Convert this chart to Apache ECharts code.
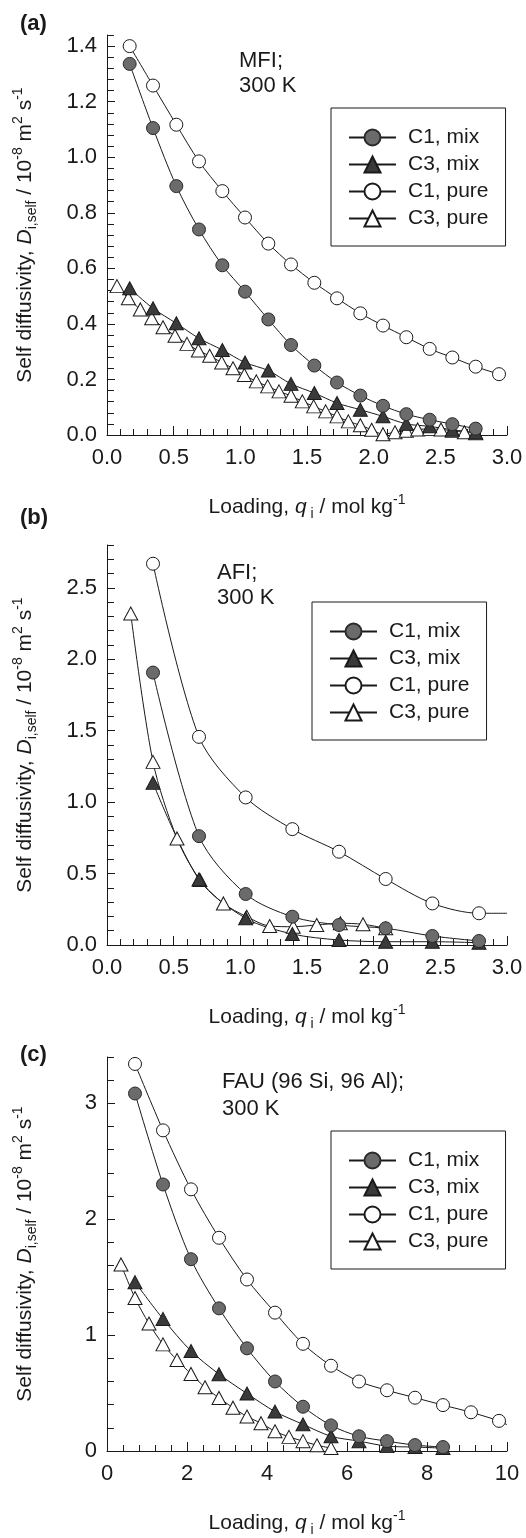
<!DOCTYPE html>
<html><head><meta charset="utf-8">
<script src="https://cdn.jsdelivr.net/npm/echarts@6/dist/echarts.min.js"></script>
<style>html,body{margin:0;padding:0;background:#fff}#c{width:526px;height:1538px}</style>
</head><body><div id="c"></div>
<script>
const FONT = "'Liberation Sans', Arial, Helvetica, sans-serif";
const legendNames = ['C1, mix', 'C3, mix', 'C1, pure', 'C3, pure'];

// ---- (a) MFI, 300 K ----
const mfiMixX   = [0.17,0.345,0.52,0.69,0.865,1.035,1.21,1.38,1.555,1.725,1.9,2.07,2.245,2.42,2.59,2.765];
const mfiC1mixY = [1.336,1.105,0.896,0.74,0.611,0.516,0.416,0.324,0.25,0.189,0.142,0.105,0.075,0.055,0.039,0.023];
const mfiC3mixY = [0.528,0.456,0.402,0.348,0.306,0.261,0.232,0.184,0.151,0.115,0.091,0.067,0.04,0.031,0.019,0.009];
const mfiC1pureX = [0.17,0.345,0.52,0.69,0.865,1.035,1.21,1.38,1.555,1.725,1.9,2.07,2.245,2.42,2.59,2.765,2.94];
const mfiC1pureY = [1.40,1.258,1.117,0.985,0.878,0.783,0.689,0.614,0.548,0.492,0.438,0.394,0.352,0.31,0.279,0.246,0.219];
const mfiC3pureX = [0.075,0.16,0.25,0.335,0.42,0.51,0.60,0.685,0.77,0.86,0.945,1.03,1.12,1.205,1.29,1.38,1.465,1.55,1.64,1.725,1.81,1.90,1.985,2.07,2.16,2.245,2.33,2.42,2.505,2.59,2.68,2.765];
const mfiC3pureY = [0.536,0.492,0.452,0.42,0.388,0.357,0.328,0.304,0.285,0.261,0.24,0.216,0.193,0.175,0.157,0.141,0.121,0.103,0.085,0.067,0.049,0.035,0.019,0.003,0.01,0.015,0.02,0.022,0.02,0.015,0.01,0.006];

// ---- (b) AFI, 300 K ----
const afiX       = [0.345,0.69,1.04,1.39,1.74,2.09,2.44,2.79];
const afiC1mixY  = [1.907,0.762,0.357,0.198,0.14,0.117,0.063,0.028];
const afiC3mixY  = [1.135,0.459,0.187,0.077,0.035,0.023,0.023,0.016];
const afiC1pureY = [2.669,1.457,1.033,0.811,0.653,0.462,0.291,0.222];
const afiC1pureTail = [3.0, 0.222];
const afiC3pureX = [0.178,0.345,0.525,0.697,0.873,1.048,1.22,1.397,1.573,1.75,1.92,2.09];
const afiC3pureY = [2.32,1.282,0.746,0.455,0.291,0.198,0.133,0.128,0.14,0.152,0.145,0.117];

// ---- (c) FAU (96 Si, 96 Al), 300 K ----
const fauMixX    = [0.7,1.4,2.1,2.8,3.5,4.2,4.9,5.6,6.3,7.0,7.7,8.4];
const fauC1mixY  = [3.085,2.30,1.655,1.231,0.886,0.60,0.382,0.221,0.127,0.085,0.051,0.034];
const fauC3mixY  = [1.457,1.14,0.863,0.663,0.496,0.34,0.23,0.127,0.085,0.042,0.034,0.025];
const fauC1pureX = [0.7,1.4,2.1,2.8,3.5,4.2,4.9,5.6,6.3,7.0,7.7,8.4,9.1,9.8];
const fauC1pureY = [3.34,2.767,2.258,1.84,1.48,1.194,0.925,0.736,0.60,0.524,0.46,0.396,0.334,0.26];
const fauC1pureTail = [10.0, 0.227];
const fauC3pureX = [0.35,0.7,1.05,1.4,1.75,2.1,2.45,2.8,3.15,3.5,3.85,4.2,4.55,4.9,5.25,5.6];
const fauC3pureY = [1.61,1.32,1.10,0.92,0.785,0.665,0.55,0.458,0.374,0.297,0.24,0.17,0.122,0.085,0.05,0.025];

// tick labels
const xTicksAB = ['0.0','0.5','1.0','1.5','2.0','2.5','3.0'];
const yTicksA = ['0.0','0.2','0.4','0.6','0.8','1.0','1.2','1.4'];
const yTicksB = ['0.0','0.5','1.0','1.5','2.0','2.5'];
const xTicksC = ['0','2','4','6','8','10'];
const yTicksC = ['0','1','2','3'];

const INK = '#1a1a1a';
const styles = {
  'C1, mix':  {symbol:'circle',   symbolSize:13,     itemStyle:{color:'#6b6b6b', borderColor:'#2a2a2a', borderWidth:1}},
  'C3, mix':  {symbol:'triangle', symbolSize:[14,13], itemStyle:{color:'#3a3a3a', borderColor:'#1a1a1a', borderWidth:1}},
  'C1, pure': {symbol:'circle',   symbolSize:13,     itemStyle:{color:'#ffffff', borderColor:'#1a1a1a', borderWidth:1}},
  'C3, pure': {symbol:'triangle', symbolSize:[14,13], itemStyle:{color:'#ffffff', borderColor:'#1a1a1a', borderWidth:1}}
};
function pts(xs, ys, tail) {
  const d = xs.map((x, i) => [x, ys[i]]);
  if (tail) d.push({value: tail, symbol: 'none'});
  return d;
}
function ser(name, gi, data) {
  const s = styles[name];
  return Object.assign({
    type:'line', name, xAxisIndex:gi, yAxisIndex:gi, data, smooth:0.3,
    lineStyle:{color:INK, width:1}, emphasis:{disabled:true}, z: 2
  }, s);
}

const rich = {
  n:   {fontFamily:FONT, fontSize:21, color:INK, lineHeight:28},
  it:  {fontFamily:FONT, fontSize:21, color:INK, fontStyle:'italic', lineHeight:28},
  sub: {fontFamily:FONT, fontSize:14, color:INK, verticalAlign:'bottom'},
  sup: {fontFamily:FONT, fontSize:14, color:INK, verticalAlign:'top'}
};
const yName = '{n|Self diffusivity, }{it|D}{sub|i,self}{n| / 10}{sup|-8}{n| m}{sup|2}{n| s}{sup|-1}';
const xName = '{n|Loading, }{it|q}{sub| i}{n| / mol kg}{sup|-1}';

function xAx(gi, max, interval, labels) {
  return {
    type:'value', gridIndex:gi, min:0, max, interval,
    axisLine:{lineStyle:{color:INK, width:1}},
    axisTick:{inside:true, length:9, lineStyle:{color:INK, width:1}},
    minorTick:{show:true, splitNumber:5, length:6, lineStyle:{color:INK, width:1}},
    splitLine:{show:false},
    axisLabel:{fontFamily:FONT, fontSize:22, color:INK, margin:12,
      formatter: v => labels[Math.round(v / interval)] || ''},
    name:xName, nameLocation:'middle', nameGap:58,
    nameTextStyle:{rich}
  };
}
function yAx(gi, max, interval, labels) {
  return {
    type:'value', gridIndex:gi, min:0, max, interval,
    axisLine:{show:true, lineStyle:{color:INK, width:1}},
    axisTick:{inside:true, length:8, lineStyle:{color:INK, width:1}},
    splitLine:{show:false},
    axisLabel:{fontFamily:FONT, fontSize:22, color:INK, margin:10, showMaxLabel:false,
      formatter: v => { const k = v / interval; return Math.abs(k - Math.round(k)) < 1e-6 ? (labels[Math.round(k)] || '') : ''; }},
    name:yName, nameLocation:'middle', nameGap:68, nameRotate:90,
    nameTextStyle:{rich}
  };
}
function yMinor(gi, max, step) {
  return {
    type:'value', gridIndex:gi, min:0, max, interval:step, position:'left',
    axisLine:{show:false}, axisLabel:{show:false}, splitLine:{show:false},
    axisTick:{show:true, inside:true, length:7, lineStyle:{color:INK, width:1}}
  };
}
function legend(left, top) {
  return {
    orient:'vertical', left, top, padding:[19,17,17,17], itemGap:6,
    itemWidth:47, itemHeight:20, borderColor:INK, borderWidth:1,
    selectedMode:false, data:legendNames,
    textStyle:{fontFamily:FONT, fontSize:21, color:INK, padding:[0,0,0,7]}
  };
}
function txt(x, y, text, bold) {
  return {type:'text', x, y, silent:true,
    style:{text, fill:INK, font:(bold ? 'bold ' : '') + '22px ' + FONT, verticalAlign:'middle', align:'left'}};
}

const chart = echarts.init(document.getElementById('c'), null, {renderer:'canvas'});
chart.setOption({
  animation:false,
  backgroundColor:'#ffffff',
  grid:[
    {left:107, top:35, width:400, height:400},
    {left:107, top:545, width:400, height:400},
    {left:107, top:1057, width:400, height:400}
  ],
  xAxis:[ xAx(0, 3, 0.5, xTicksAB), xAx(1, 3, 0.5, xTicksAB), xAx(2, 10, 2, xTicksC) ],
  yAxis:[ yAx(0, 1.44, 0.2, yTicksA), yAx(1, 2.8, 0.5, yTicksB), yAx(2, 3.4, 1, yTicksC),
          yMinor(0, 1.44, 0.04), yMinor(1, 2.8, 0.1), yMinor(2, 3.4, 0.2) ],
  legend:[ legend(331, 108), legend(312, 602), legend(331, 1131) ],
  graphic:[
    txt(20, 24, '(a)', true), txt(20, 518, '(b)', true), txt(20, 1055, '(c)', true),
    txt(239, 61, 'MFI;'), txt(239, 86, '300 K'),
    txt(217, 573, 'AFI;'), txt(217, 598, '300 K'),
    txt(222, 1082, 'FAU (96 Si, 96 Al);'), txt(222, 1109, '300 K')
  ],
  series:[
    ser('C3, pure', 0, pts(mfiC3pureX, mfiC3pureY)),
    ser('C3, mix', 0, pts(mfiMixX, mfiC3mixY)),
    ser('C1, pure', 0, pts(mfiC1pureX, mfiC1pureY)),
    ser('C1, mix', 0, pts(mfiMixX, mfiC1mixY)),

    ser('C3, pure', 1, pts(afiC3pureX, afiC3pureY)),
    ser('C3, mix', 1, pts(afiX, afiC3mixY)),
    ser('C1, pure', 1, pts(afiX, afiC1pureY, afiC1pureTail)),
    ser('C1, mix', 1, pts(afiX, afiC1mixY)),

    ser('C3, pure', 2, pts(fauC3pureX, fauC3pureY)),
    ser('C3, mix', 2, pts(fauMixX, fauC3mixY)),
    ser('C1, pure', 2, pts(fauC1pureX, fauC1pureY, fauC1pureTail)),
    ser('C1, mix', 2, pts(fauMixX, fauC1mixY))
  ]
});
</script></body></html>
